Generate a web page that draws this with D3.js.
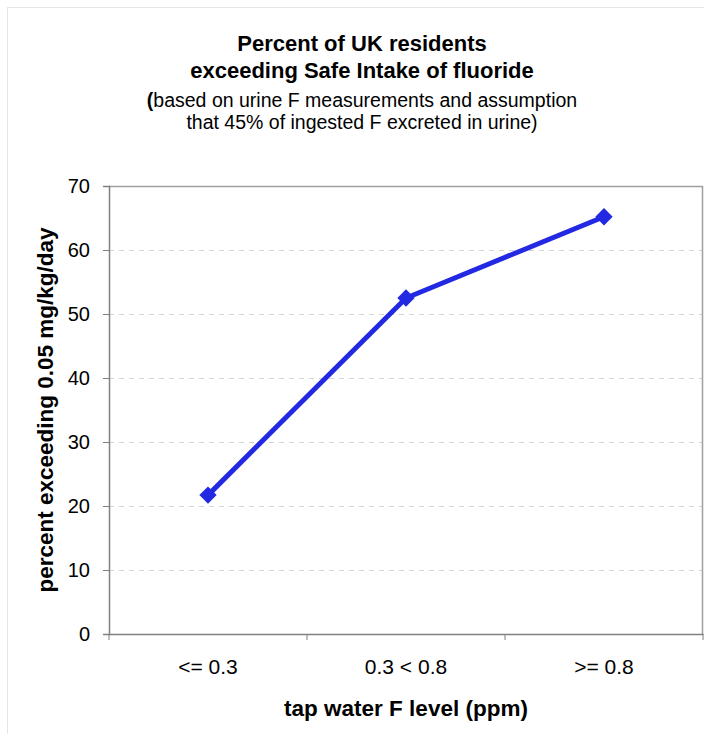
<!DOCTYPE html>
<html><head><meta charset="utf-8">
<script src="https://cdn.jsdelivr.net/npm/d3@7"></script>
<style>body{margin:0;background:#fff}svg{display:block}text{font-family:"Liberation Sans",Arial,sans-serif;fill:#000}</style>
</head><body>
<script>
const categories = ["<= 0.3", "0.3 < 0.8", ">= 0.8"];
const values = [21.7, 52.5, 65.2];
const yTicks = [0, 10, 20, 30, 40, 50, 60, 70];
const titleLines = ["Percent of UK residents", "exceeding Safe Intake of fluoride"];
const subtitleLines = ["based on urine F measurements and assumption", "that 45% of ingested F excreted in urine)"];
const xTitle = "tap water F level (ppm)";
const yTitle = "percent exceeding 0.05 mg/kg/day";

const W = 704, H = 734;
const m = {l:109, t:186, r:703, b:634};
const svg = d3.select("body").append("svg").attr("width", W).attr("height", H);

svg.append("rect").attr("x",7.5).attr("y",7.5).attr("width",W).attr("height",H)
  .attr("fill","none").attr("stroke","#e6e6e6");

const x = d3.scaleBand().domain(categories).range([m.l, m.r]);
const y = d3.scaleLinear().domain([0,70]).range([m.b, m.t]);

// grid
svg.append("g").selectAll("line").data(yTicks.filter(d=>d>0 && d<70)).join("line")
  .attr("x1", m.l).attr("x2", m.r).attr("y1", d=>y(d)+0.5).attr("y2", d=>y(d)+0.5)
  .attr("stroke","#d4d4d4").attr("stroke-dasharray","5,5");

// frame top/right
svg.append("path").attr("d", `M${m.l},${m.t+0.5}H${m.r-0.5}V${m.b}`).attr("fill","none").attr("stroke","#a0a0a0").attr("stroke-width",1.5);

// y axis
const ya = svg.append("g").attr("transform",`translate(${m.l},0)`)
  .call(d3.axisLeft(y).tickValues(yTicks).tickSize(6).tickPadding(13));
ya.select(".domain").attr("stroke","#808080").attr("stroke-width",1.5);
ya.selectAll(".tick line").attr("stroke","#808080");
ya.selectAll(".tick text").style("font-size","20px").style("font-family","Liberation Sans, Arial, sans-serif").attr("fill","#000");

// x axis
const xa = svg.append("g").attr("transform",`translate(0,${m.b})`)
  .call(d3.axisBottom(x).tickSize(0).tickPadding(25));
xa.select(".domain").attr("stroke","#808080").attr("stroke-width",1.5);
xa.selectAll(".tick text").style("font-size","21px").style("font-family","Liberation Sans, Arial, sans-serif").attr("fill","#000");
xa.append("g").selectAll("line").data([...categories.map(c=>x(c)), m.r]).join("line")
  .attr("x1", d=>d).attr("x2", d=>d).attr("y1",0).attr("y2",6).attr("stroke","#808080");

// line
const cx = d => x(d) + x.bandwidth()/2;
svg.append("path").datum(values)
  .attr("d", d3.line().x((d,i)=>cx(categories[i])).y(d=>y(d)))
  .attr("fill","none").attr("stroke","#2329e2").attr("stroke-width",5);
svg.append("g").selectAll("path").data(values).join("path")
  .attr("d", d3.symbol().type(d3.symbolSquare).size(150))
  .attr("transform",(d,i)=>`translate(${cx(categories[i])},${y(d)}) rotate(45)`)
  .attr("fill","#2329e2");

// titles
const cxT = 362;
svg.append("text").attr("x",cxT).attr("y",51).attr("text-anchor","middle").style("font-weight","bold").style("font-size","22px").text(titleLines[0]);
svg.append("text").attr("x",cxT).attr("y",78).attr("text-anchor","middle").style("font-weight","bold").style("font-size","22px").text(titleLines[1]);
const s1 = svg.append("text").attr("x",cxT).attr("y",107).attr("text-anchor","middle").style("font-size","19.5px");
s1.append("tspan").style("font-weight","bold").text("(");
s1.append("tspan").text(subtitleLines[0]);
svg.append("text").attr("x",cxT).attr("y",129).attr("text-anchor","middle").style("font-size","19.5px").text(subtitleLines[1]);

svg.append("text").attr("x",(m.l+m.r)/2).attr("y",716).attr("text-anchor","middle").style("font-weight","bold").style("font-size","22.5px").text(xTitle);
svg.append("text").attr("transform",`translate(53,${(m.t+m.b)/2}) rotate(-90)`).attr("text-anchor","middle").style("font-weight","bold").style("font-size","22.5px").text(yTitle);
</script>
</body></html>
